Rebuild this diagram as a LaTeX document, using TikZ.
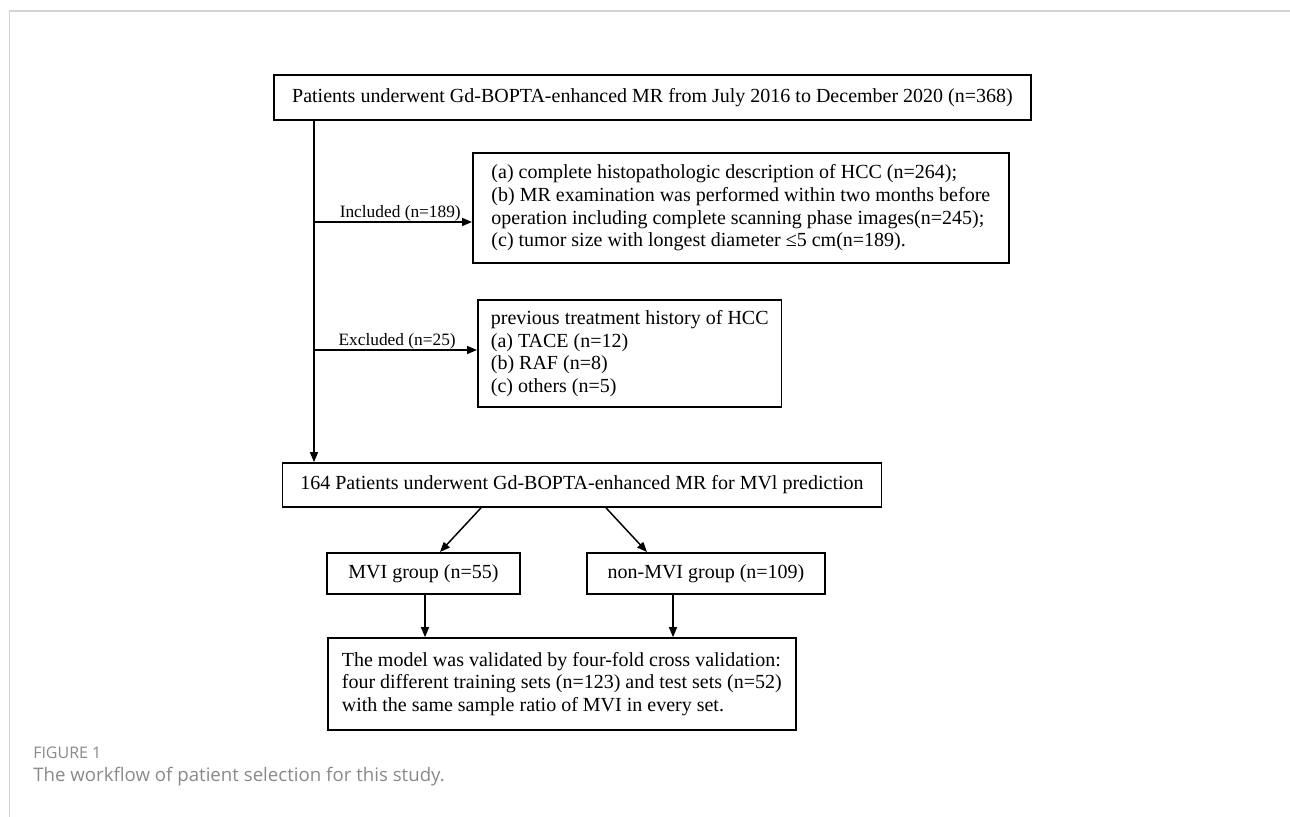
\documentclass[tikz,border=0pt]{standalone}
\usepackage{fontspec}
\setmainfont{Liberation Serif}
\newfontfamily\capfont{Open Sans}
\usetikzlibrary{arrows.meta}
\definecolor{framegray}{HTML}{D4D4D4}
\definecolor{capgray}{HTML}{8A8A8A}
\begin{document}
\begin{tikzpicture}[x=0.75pt,y=-0.75pt,
  box/.style={draw, line width=1.3pt, inner sep=0pt, font=\fontsize{15}{17}\selectfont},
  lbox/.style={box, align=left, inner xsep=9.75pt},
  arr/.style={line width=1.1pt, -{Triangle[length=7.5pt,width=6pt]}},
  lab/.style={font=\fontsize{13}{15}\selectfont, inner sep=0pt}]
\useasboundingbox (0,0) rectangle (1290,817);
\fill[white] (0,0) rectangle (1290,817);
% frame
\draw[framegray, line width=1.5pt] (9,11) -- (1290,11);
\draw[framegray, line width=0.75pt] (9,11) -- (9,817);

% boxes
\node[box, minimum width=567.75pt, minimum height=33.75pt] (top) at (652.5,97.5)
  {Patients underwent Gd-BOPTA-enhanced MR from July 2016 to December 2020 (n=368)};
\node[lbox, minimum width=402pt, minimum height=82.5pt, anchor=west] (inc) at (472,208)
  {(a) complete histopathologic description of HCC (n=264);\\
   (b) MR examination was performed within two months before\\
   operation including complete scanning phase images(n=245);\\
   (c) tumor size with longest diameter ≤5 cm(n=189).};
\node[lbox, minimum height=80.25pt, anchor=west] (exc) at (477,353.5)
  {previous treatment history of HCC\\
   (a) TACE (n=12)\\
   (b) RAF (n=8)\\
   (c) others (n=5)};
\node[box, minimum width=449.25pt, minimum height=33pt] (mid) at (582,485)
  {164 Patients underwent Gd-BOPTA-enhanced MR for MVl prediction};
\node[box, minimum width=144.75pt, minimum height=30.75pt] (mvi) at (423.5,573.5)
  {MVI group (n=55)};
\node[box, minimum width=178.5pt, minimum height=30.75pt] (non) at (706,573.5)
  {non-MVI group (n=109)};
\node[box, align=left, inner xsep=10.5pt, minimum height=69pt, anchor=west] (fin) at (327,684)
  {The model was validated by four-fold cross validation:\\
   four different training sets (n=123) and test sets (n=52)\\
   with the same sample ratio of MVI in every set.};

% connectors
\coordinate (trunk) at (314,0);
\coordinate (ia) at (314,222);
\coordinate (ea) at (314,350);
\draw[line width=1.1pt] (top.south -| trunk) -- (ia);
\draw[arr] (ia) -- (mid.north -| trunk);
\draw[arr] (ia) -- (ia -| inc.west);
\draw[arr] (ea) -- (ea -| exc.west);
\node[lab, anchor=base east] (linc) at (461,217) {Included (n=189)};
\node[lab, anchor=base east] (lexc) at (456,345) {Excluded (n=25)};

\coordinate (d1s) at (481,0);
\coordinate (d1e) at (440,552);
\coordinate (d2s) at (606,0);
\coordinate (d2e) at (647,552);
\draw[arr] (mid.south -| d1s) -- (d1e);
\draw[arr] (mid.south -| d2s) -- (d2e);
\coordinate (v1) at (425,0);
\coordinate (v2) at (673,0);
\draw[arr] (mvi.south -| v1) -- (fin.north -| v1);
\draw[arr] (non.south -| v2) -- (fin.north -| v2);

% caption
\node[anchor=base west, inner sep=0pt, text=capgray, font=\capfont\fontsize{12}{14}\selectfont] (fig) at (33,758) {FIGURE 1};
\node[anchor=base west, inner sep=0pt, text=capgray, font=\capfont\fontsize{14}{16}\selectfont] (cap) at (33,781) {The workflow of patient selection for this study.};
\end{tikzpicture}
\end{document}
